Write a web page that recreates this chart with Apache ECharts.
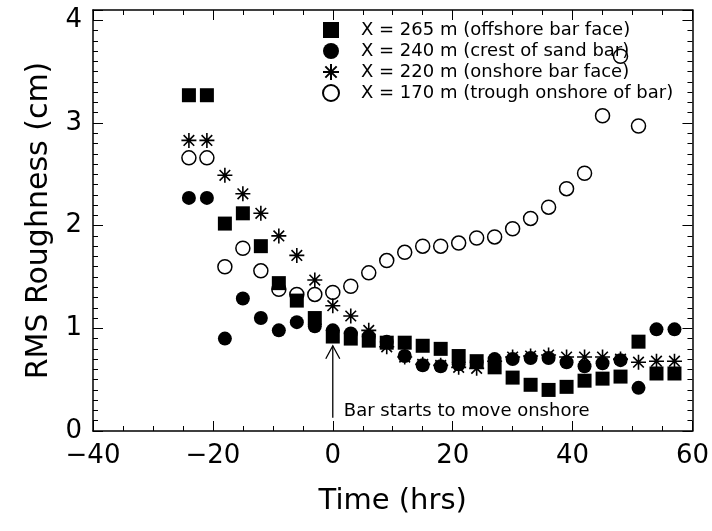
<!DOCTYPE html>
<html>
<head>
<meta charset="utf-8">
<script src="https://cdn.jsdelivr.net/npm/echarts@6/dist/echarts.min.js"></script>
<style>
html,body{margin:0;padding:0;background:#fff;}
#c{width:712px;height:531px;}
</style>
</head>
<body>
<div id="c"></div>
<script>
// ---- data ----
const times = [-24,-21,-18,-15,-12,-9,-6,-3,0,3,6,9,12,15,18,21,24,27,30,33,36,39,42,45,48,51,54,57];
const sq265 = [3.27,3.27,2.02,2.12,1.80,1.44,1.27,1.10,0.92,0.90,0.88,0.86,0.86,0.83,0.80,0.73,0.68,0.62,0.52,0.45,0.40,0.43,0.49,0.51,0.53,0.87,0.56,0.56];
const circ240 = [2.27,2.27,0.90,1.29,1.10,0.98,1.06,1.02,0.98,0.95,0.92,0.87,0.73,0.64,0.63,0.65,0.67,0.70,0.70,0.71,0.71,0.67,0.63,0.66,0.69,0.42,0.99,0.99];
const star220 = [2.83,2.83,2.49,2.31,2.12,1.90,1.71,1.47,1.22,1.12,0.98,0.82,0.72,0.65,0.64,0.62,0.61,0.68,0.72,0.73,0.74,0.72,0.72,0.72,0.70,0.67,0.68,0.68];
const open170 = [2.66,2.66,1.60,1.78,1.56,1.38,1.33,1.33,1.35,1.41,1.54,1.66,1.74,1.80,1.80,1.83,1.88,1.89,1.97,2.07,2.18,2.36,2.51,3.07,3.65,2.97,null,null];
const seriesNames = [
  'X = 265 m (offshore bar face)',
  'X = 240 m (crest of sand bar)',
  'X = 220 m (onshore bar face)',
  'X = 170 m (trough onshore of bar)'
];
const xTickValues = [-40,-20,0,20,40,60];
const yTickValues = [0,1,2,3,4];
const noteText = 'Bar starts to move onshore';
const arrowTime = 0, arrowFrom = 0.13, arrowTo = 0.83;
const notePos = [1.85, 0.195];

// ---- helpers ----
const FONT = 'DejaVu Sans';
const pair = (arr) => times.map((t, i) => [t, arr[i] == null ? '-' : arr[i]]);
const fmtMinus = (v) => (v < 0 ? '\u2212' + Math.abs(v) : String(v));
const STAR = 'path://M0,-10L0,10M-10,0L10,0M-7.07,-7.07L7.07,7.07M-7.07,7.07L7.07,-7.07';

const chart = echarts.init(document.getElementById('c'), null, {renderer: 'canvas'});

const axisCommon = {
  axisLine: {show: true, onZero: false, lineStyle: {color: '#000', width: 1.5}},
  axisTick: {show: true, inside: true, length: 10, lineStyle: {color: '#000', width: 1}},
  splitLine: {show: false}
};

const option = {
  animation: false,
  backgroundColor: '#fff',
  grid: {left: 93, right: 19, top: 10, bottom: 100, containLabel: false},
  xAxis: [
    Object.assign({
      type: 'value', min: -40, max: 60, interval: 20, position: 'bottom',
      minorTick: {show: true, splitNumber: 4, length: 5, lineStyle: {color: '#000', width: 1}},
      axisLabel: {show: true, margin: 12, fontFamily: FONT, fontSize: 26, color: '#000',
        formatter: (v) => xTickValues.includes(v) ? fmtMinus(v) : ''},
      name: 'Time (hrs)', nameLocation: 'middle', nameGap: 56,
      nameTextStyle: {fontFamily: FONT, fontSize: 29, color: '#000'}
    }, axisCommon),
    Object.assign({
      type: 'value', min: -40, max: 60, interval: 20, position: 'top',
      minorTick: {show: true, splitNumber: 4, length: 5, lineStyle: {color: '#000', width: 1}},
      axisLabel: {show: false}
    }, axisCommon)
  ],
  yAxis: [
    Object.assign({
      type: 'value', min: 0, max: 4.1, interval: 1, position: 'left',
      minorTick: {show: true, splitNumber: 10, length: 5, lineStyle: {color: '#000', width: 1}},
      axisLabel: {show: true, margin: 11, fontFamily: FONT, fontSize: 26, color: '#000',
        formatter: (v) => yTickValues.includes(v) ? String(v) : ''},
      name: 'RMS Roughness (cm)', nameLocation: 'middle', nameGap: 38,
      nameTextStyle: {fontFamily: FONT, fontSize: 30, color: '#000'}
    }, axisCommon),
    Object.assign({
      type: 'value', min: 0, max: 4.1, interval: 1, position: 'right',
      minorTick: {show: true, splitNumber: 10, length: 5, lineStyle: {color: '#000', width: 1}},
      axisLabel: {show: false}
    }, axisCommon)
  ],
  legend: {
    orient: 'vertical', left: 322, top: 21, padding: 0, itemWidth: 16, itemHeight: 16, itemGap: 3,
    selectedMode: false,
    textStyle: {fontFamily: FONT, fontSize: 18, lineHeight: 16, color: '#000', padding: [0, 0, 0, 17]},
    data: seriesNames
  },
  series: [
    {name: seriesNames[0], type: 'scatter', symbol: 'rect', symbolSize: 14,
     itemStyle: {color: '#000', opacity: 1}, data: pair(sq265), z: 3},
    {name: seriesNames[1], type: 'scatter', symbol: 'circle', symbolSize: 14,
     itemStyle: {color: '#000', opacity: 1}, data: pair(circ240), z: 3},
    {name: seriesNames[2], type: 'scatter', symbol: STAR, symbolSize: 15,
     itemStyle: {color: '#000', borderColor: '#000', borderWidth: 1.6, opacity: 1}, data: pair(star220), z: 4},
    {name: seriesNames[3], type: 'scatter', symbol: 'circle', symbolSize: 14,
     itemStyle: {color: 'rgba(255,255,255,0)', borderColor: '#000', borderWidth: 1.5, opacity: 1}, data: pair(open170), z: 5}
  ]
};
chart.setOption(option);

// annotation arrow and text positioned through the chart's own scales
const pFrom = chart.convertToPixel({xAxisIndex: 0, yAxisIndex: 0}, [arrowTime, arrowFrom]);
const pTo = chart.convertToPixel({xAxisIndex: 0, yAxisIndex: 0}, [arrowTime, arrowTo]);
const pText = chart.convertToPixel({xAxisIndex: 0, yAxisIndex: 0}, notePos);
chart.setOption({
  graphic: [
    {type: 'line', shape: {x1: pFrom[0], y1: pFrom[1], x2: pTo[0], y2: pTo[1]},
     style: {stroke: '#000', lineWidth: 1.3}, z: 10},
    {type: 'polyline', shape: {points: [[pTo[0] - 7, pTo[1] + 13], [pTo[0], pTo[1]], [pTo[0] + 7, pTo[1] + 13]]},
     style: {stroke: '#000', lineWidth: 1.3, fill: null}, z: 10},
    {type: 'text', x: pText[0], y: pText[1],
     style: {text: noteText, fontFamily: FONT, fontSize: 18, fill: '#000', verticalAlign: 'middle', align: 'left'}, z: 10}
  ]
});
</script>
</body>
</html>
